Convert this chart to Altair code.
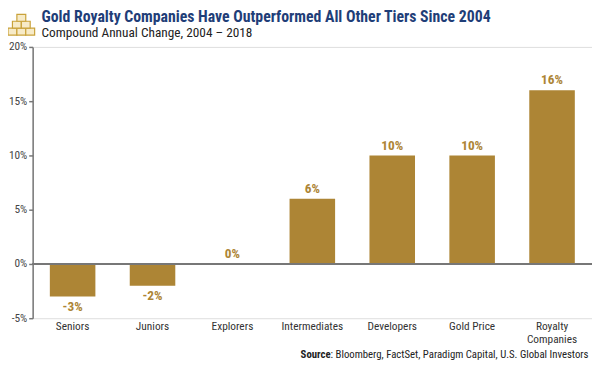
import altair as alt
import pandas as pd

categories = ["Seniors", "Juniors", "Explorers", "Intermediates", "Developers", "Gold Price", "Royalty Companies"]
values = [-3, -2, 0, 6, 10, 10, 16]
labels = ["-3%", "-2%", "0%", "6%", "10%", "10%", "16%"]

df = pd.DataFrame({"cat": categories, "val": values, "lab": labels})

GOLD = "#AD8535"
NAVY = "#1F3E78"
COND = "Roboto Condensed, DejaVu Sans Condensed, Roboto"

x = alt.X("cat:N", sort=categories, title=None,
          scale=alt.Scale(paddingInner=0.43, paddingOuter=0.215),
          axis=alt.Axis(domain=False, ticks=False, labelAngle=0, labelPadding=2,
                        labelFont=COND, labelFontSize=11.5, labelColor="#333333", labelLineHeight=14,
                        labelExpr="datum.label == 'Royalty Companies' ? ['Royalty', 'Companies'] : datum.label"))
y = alt.Y("val:Q", title=None,
          scale=alt.Scale(domain=[-5, 20], nice=False),
          axis=alt.Axis(values=[-5, 0, 5, 10, 15, 20], grid=False, domainColor="#777777", domainWidth=1.5,
                        tickColor="#777777", tickSize=4, tickWidth=1.5, labelPadding=2,
                        labelFont=COND, labelFontSize=11.5, labelColor="#444444",
                        labelExpr="datum.value + '%'"))

base = alt.Chart(df)
bars = base.mark_bar(color=GOLD).encode(x=x, y=y)
zero = base.mark_rule(color="#777777", strokeWidth=1.5).encode(y=alt.datum(0), x=alt.value(0), x2=alt.value(567))

lab_pos = base.transform_filter("datum.val >= 0").mark_text(
    color=GOLD, fontWeight="bold", font=COND, fontSize=13.5, dy=-10, baseline="middle"
).encode(x=x, y=y, text="lab:N")
lab_neg = base.transform_filter("datum.val < 0").mark_text(
    color=GOLD, fontWeight="bold", font=COND, fontSize=13.5, dy=11, baseline="middle"
).encode(x=x, y=y, text="lab:N")

one = pd.DataFrame({"a": [0]})
t = alt.Chart(one)
title = t.mark_text(text="Gold Royalty Companies Have Outperformed All Other Tiers Since 2004",
                    font=COND, fontWeight="bold", fontSize=16, color=NAVY,
                    align="left", baseline="alphabetic").encode(x=alt.value(9), y=alt.value(-25))
subtitle = t.mark_text(text="Compound Annual Change, 2004 \u2013 2018",
                       font=COND, fontSize=13.5, color="#222222",
                       align="left", baseline="alphabetic").encode(x=alt.value(9), y=alt.value(-10))
src_b = t.mark_text(text="Source", font=COND, fontWeight="bold", fontSize=10.9,
                    color="#222222", align="right", baseline="middle").encode(x=alt.value(302), y=alt.value(312))
src_r = t.mark_text(text=": Bloomberg, FactSet, Paradigm Capital, U.S. Global Investors",
                    font=COND, fontSize=10.9, color="#222222",
                    align="left", baseline="middle").encode(x=alt.value(302), y=alt.value(312))

# decorative gold-bar icon (pixel offsets from the plot's top-left corner)
icon_x = [-25, -16, -7, -20.5, -11.5, -16]
icon_x2 = [-16, -7, 2, -11.5, -2.5, -7]
icon_y = [-19, -19, -19, -26, -26, -33]
icon_y2 = [-12, -12, -12, -19, -19, -26]
icon = alt.Chart(pd.DataFrame({"x": icon_x, "x2": icon_x2, "y": icon_y, "y2": icon_y2})).mark_rect(
    fill="#F7EBC8", stroke="#C9A23A", strokeWidth=1.2
).encode(x=alt.X("x:Q", scale=None, axis=None), x2="x2:Q",
         y=alt.Y("y:Q", scale=None, axis=None), y2="y2:Q")

chart = alt.layer(bars, zero, lab_pos, lab_neg, title, subtitle, src_b, src_r, icon).properties(
    width=567, height=275,
    autosize=alt.AutoSizeParams(type="none"),
    padding={"left": 25, "top": 37, "right": 0, "bottom": 47},
).configure_view(stroke=None, clip=False).configure(background="white")

chart.save("out.html", embed_options={"renderer": "svg", "actions": False})
